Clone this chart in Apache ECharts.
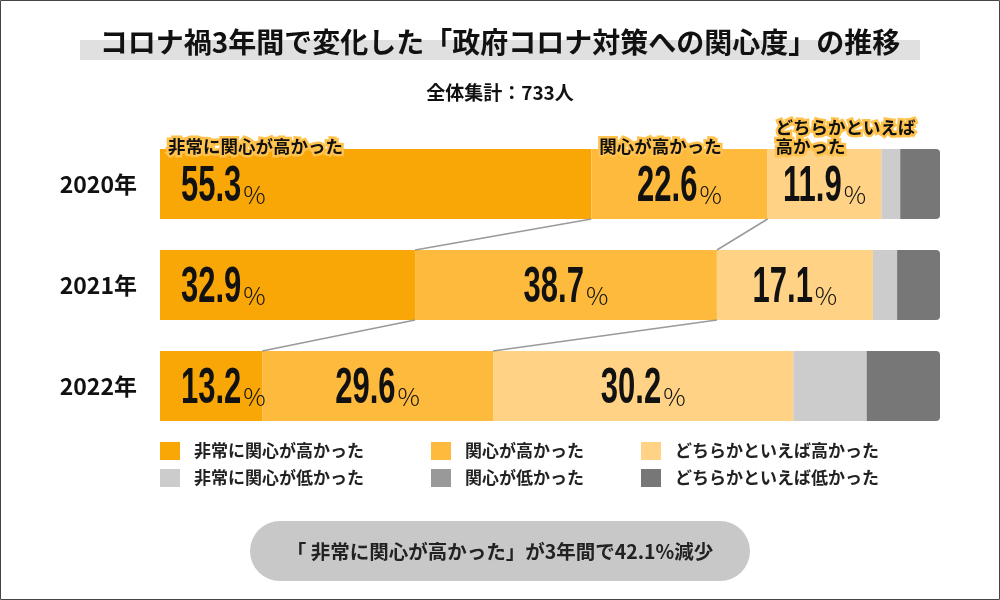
<!DOCTYPE html>
<html>
<head>
<meta charset="utf-8">
<script src="https://cdn.jsdelivr.net/npm/echarts@6/dist/echarts.min.js"></script>
<style>
  html, body { margin: 0; padding: 0; background: #fff; }
  #chart { width: 1000px; height: 600px; }
</style>
</head>
<body>
<div id="chart"></div>
<script>
// years (top to bottom)
const years = ['2020年', '2021年', '2022年'];
const seriesNames = [
  '非常に関心が高かった', '関心が高かった', 'どちらかといえば高かった',
  '非常に関心が低かった', '関心が低かった', 'どちらかといえば低かった'
];
const seriesColors = ['#F9A707', '#FDBA3C', '#FFD286', '#CCCCCC', '#999999', '#777777'];

// segment widths as drawn in the picture (%)
const veryHigh   = [55.3, 32.7, 13.1];
const high       = [22.6, 38.7, 29.6];
const ratherHigh = [14.6, 20.0, 38.5];
const veryLow    = [2.4, 3.1, 9.4];
const low        = [0, 0, 0];
const ratherLow  = [5.1, 5.5, 9.4];

// printed labels
const veryHighLabels   = ['55.3', '32.9', '13.2'];
const highLabels       = ['22.6', '38.7', '29.6'];
const ratherHighLabels = ['11.9', '17.1', '30.2'];

const values = [veryHigh, high, ratherHigh, veryLow, low, ratherLow];
const labels = [veryHighLabels, highLabels, ratherHighLabels];

const JP = '"Noto Sans CJK JP", "Noto Sans", sans-serif';
const NUM_FONT = 'bold 50px "Liberation Sans", Arial, sans-serif';
const PCT_FONT = '300 25px "Noto Sans CJK JP", "Noto Sans", sans-serif';
const NUM_SX = 0.62;

const chart = echarts.init(document.getElementById('chart'));

const series = seriesNames.map((name, i) => {
  const s = {
    name: name,
    type: 'bar',
    stack: 'all',
    barWidth: 70,
    data: values[i],
    itemStyle: { color: seriesColors[i] },
    emphasis: { disabled: true }
  };
  if (i === 5) s.itemStyle.borderRadius = [0, 4, 4, 0];
  return s;
});

function legendCol(left, names) {
  return {
    data: names,
    orient: 'vertical',
    left: left,
    top: 437,
    itemWidth: 20,
    itemHeight: 18,
    itemGap: 9,
    icon: 'rect',
    selectedMode: false,
    itemStyle: { borderRadius: 2 },
    textStyle: { fontFamily: JP, fontSize: 17, fontWeight: 'bold', color: '#222', padding: [0, 0, 0, 9] }
  };
}

chart.setOption({
  animation: false,
  grid: { left: 160, width: 780, top: 133.5, height: 303 },
  xAxis: { type: 'value', min: 0, max: 100, show: false },
  yAxis: {
    type: 'category',
    data: years,
    inverse: true,
    axisLine: { show: false },
    axisTick: { show: false },
    axisLabel: { fontFamily: JP, fontSize: 23, fontWeight: 'bold', color: '#111', margin: 23 }
  },
  legend: [
    legendCol(155, [seriesNames[0], seriesNames[3]]),
    legendCol(426, [seriesNames[1], seriesNames[4]]),
    legendCol(636, [seriesNames[2], seriesNames[5]])
  ],
  series: series
});

// overlay: title, connectors, segment names, value labels, summary pill
const half = 35;
const px = (v, row) => chart.convertToPixel({ gridIndex: 0 }, [v, row]);
const cum = (row, k) => values.slice(0, k).reduce((a, arr) => a + arr[row], 0);
const ctx = document.createElement('canvas').getContext('2d');
const measure = (t, f) => { ctx.font = f; return ctx.measureText(t).width; };

const graphics = [
  { type: 'rect', shape: { x: 0.5, y: 0.5, width: 999, height: 599 }, style: { fill: 'none', stroke: '#444', lineWidth: 1 }, z: 100 },
  { type: 'rect', shape: { x: 80, y: 40, width: 840, height: 20 }, style: { fill: '#E0E0E0' }, z: 1 },
  { type: 'text', x: 500, y: 42, z: 2, style: {
      text: 'コロナ禍3年間で変化した「政府コロナ対策への関心度」の推移',
      font: 'bold 28px ' + JP, fill: '#111', align: 'center', verticalAlign: 'middle' } },
  { type: 'text', x: 500, y: 93, z: 2, style: {
      text: '全体集計：733人', font: 'bold 19px ' + JP, fill: '#111', align: 'center', verticalAlign: 'middle' } },
  { type: 'rect', shape: { x: 250, y: 521, width: 500, height: 60, r: 30 }, style: { fill: '#C8C8C8' }, z: 1 },
  { type: 'text', x: 500, y: 552, z: 2, style: {
      text: '「 非常に関心が高かった」が3年間で42.1%減少', font: 'bold 19.5px ' + JP, fill: '#222', align: 'center', verticalAlign: 'middle' } }
];

// connector lines between boundaries of consecutive years
for (let row = 0; row < years.length - 1; row++) {
  [1, 2].forEach(k => {
    const a = px(cum(row, k), row);
    const b = px(cum(row + 1, k), row + 1);
    graphics.push({ type: 'line', z: 5, shape: { x1: a[0], y1: a[1] + half, x2: b[0], y2: b[1] - half },
      style: { stroke: '#9A9A9A', lineWidth: 1.5 } });
  });
}

// value labels (condensed numbers + thin %)
labels.forEach((arr, k) => {
  arr.forEach((t, row) => {
    const a = px(cum(row, k), row);
    const b = px(cum(row, k + 1), row);
    const numW = measure(t, NUM_FONT) * NUM_SX;
    const pctW = measure('%', PCT_FONT);
    const total = numW + 2 + pctW;
    const x0 = k === 0 ? a[0] + 21 : (a[0] + b[0]) / 2 - total / 2;
    graphics.push({ type: 'text', z: 10, x: x0, y: a[1] + 3, scaleX: NUM_SX, style: {
      text: t, font: NUM_FONT, fill: '#111', align: 'left', verticalAlign: 'middle' } });
    graphics.push({ type: 'text', z: 10, x: x0 + numW + 2, y: a[1] + 10, style: {
      text: '%', font: PCT_FONT, fill: '#111', align: 'left', verticalAlign: 'middle' } });
  });
});

// segment names above first bar
const tagNames = [seriesNames[0], seriesNames[1], 'どちらかといえば\n高かった'];
tagNames.forEach((t, k) => {
  const p = px(cum(0, k), 0);
  graphics.push({ type: 'text', z: 10, x: p[0] + 8, y: p[1] - half + 7, style: {
    text: t, font: 'bold 17.5px ' + JP, fill: '#111', stroke: '#FFC24D', lineWidth: 5, strokeFirst: true,
    align: 'left', verticalAlign: 'bottom', lineHeight: 19 } });
});

chart.setOption({ graphic: graphics });
</script>
</body>
</html>
